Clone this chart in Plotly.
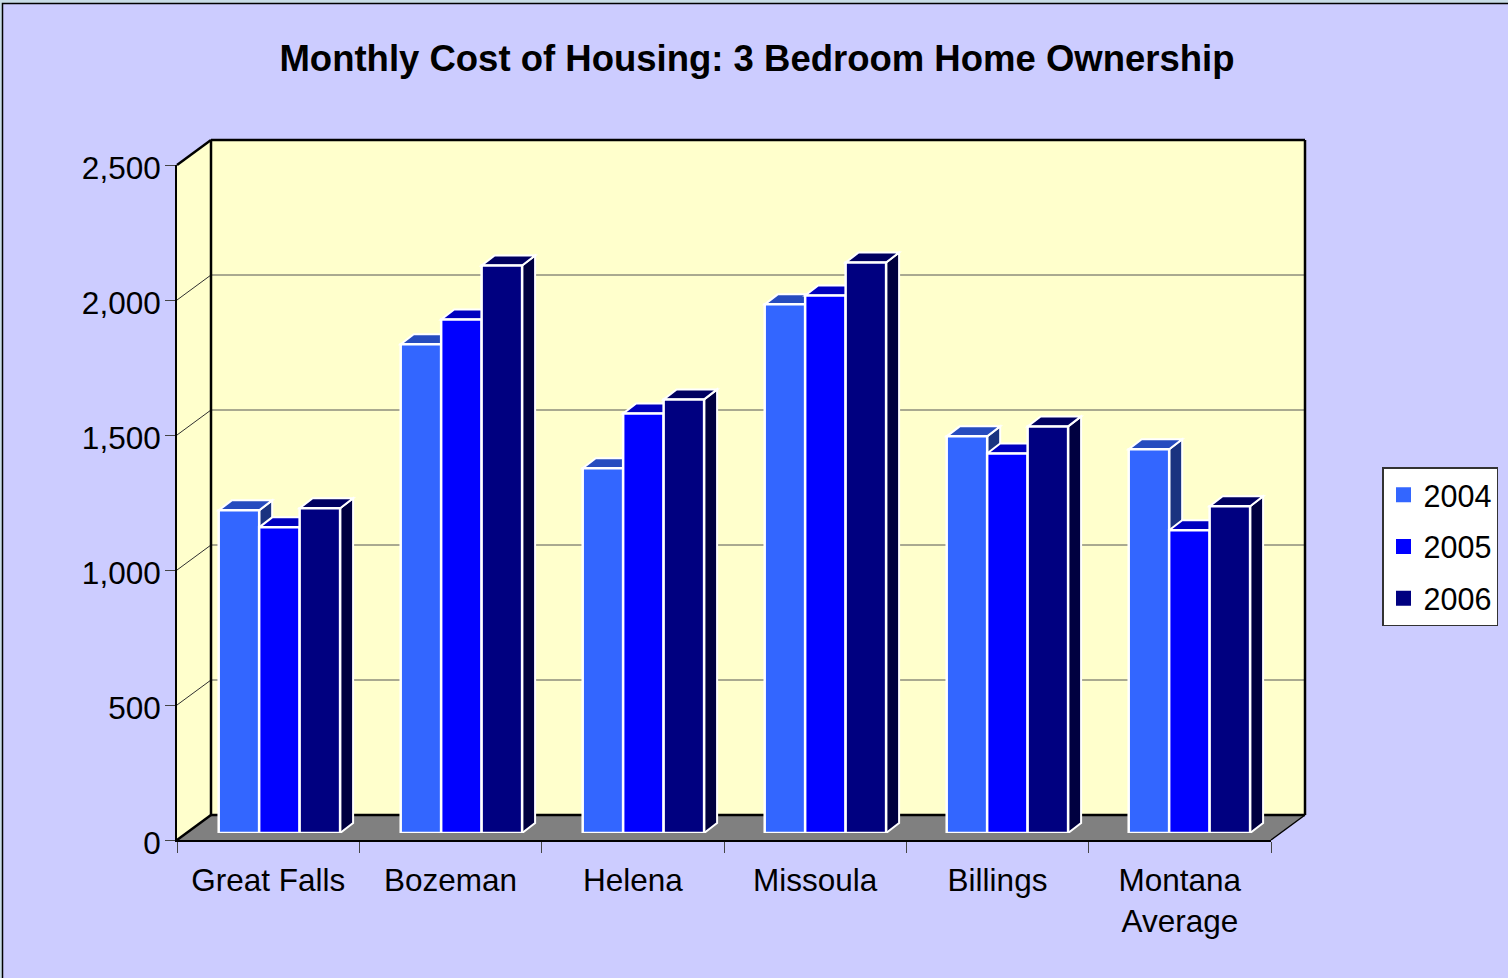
"""Monthly Cost of Housing: 3 bedroom home ownership, drawn as faux-3D clustered bars."""
import plotly.graph_objects as go

CITIES = ["Great Falls", "Bozeman", "Helena", "Missoula", "Billings", "Montana<br>Average"]
YEARS = ["2004", "2005", "2006"]
COST_2004 = [1195, 1810, 1351, 1958, 1469, 1421]
COST_2005 = [1132, 1902, 1554, 1991, 1406, 1121]
COST_2006 = [1203, 2102, 1606, 2113, 1506, 1210]
Y_TICKS = [0, 500, 1000, 1500, 2000, 2500]

FRONT = ["#3366FF", "#0000FF", "#000080"]
TOP = ["#264CBF", "#0000BF", "#000060"]
SIDE = ["#1A3380", "#000080", "#000040"]
PAPER = "#CCCCFF"
WALL = "#FFFFCC"
FLOOR = "#808080"
FONT = "Liberation Sans"
W, H = 1508, 978

# Plot box in page pixels: front plane, back wall, and the plane the bars stand on
FX0, FX1, FY0, FY1 = 177, 1271, 840, 165
BX0, BX1, BY0, BY1 = 211, 1305, 815, 140
BAR_X0, BAR_X1 = 188.4, 1280.4
BAR_DY = -7
GAP = 0.333
# Bar depth, in data units of the bar axes
DEPTH_X = 13 / ((BAR_X1 - BAR_X0) / 6)
DEPTH_Y = 10 / ((FY0 - FY1) / 2500)


def px(x):
    return x / W


def py(y):
    return 1 - y / H


def poly(points, fill, line_color=None, line_width=0):
    path = "M" + " L".join(f"{px(x):.5f},{py(y):.5f}" for x, y in points) + " Z"
    return dict(type="path", xref="paper", yref="paper", path=path, fillcolor=fill,
                line=dict(color=line_color or fill, width=line_width), layer="below")


def seg(x0, y0, x1, y1, color, width):
    return dict(type="line", xref="paper", yref="paper", x0=px(x0), y0=py(y0), x1=px(x1), y1=py(y1),
                line=dict(color=color, width=width), layer="below")


fig = go.Figure()

# Invisible trace so the front category axis gets its labels; real legend entries follow
fig.add_trace(go.Scatter(x=CITIES, y=[None] * 6, xaxis="x", yaxis="y", showlegend=False, hoverinfo="skip"))
for year, color in zip(YEARS, FRONT):
    fig.add_trace(go.Scatter(
        x=[None], y=[None], xaxis="x", yaxis="y", mode="markers", name=year, legendgroup=year,
        marker=dict(symbol="square", size=15, color=color),
    ))

series = [COST_2004, COST_2005, COST_2006]
for year, values, color in zip(YEARS, series, FRONT):
    fig.add_trace(go.Bar(
        x=list(range(6)), y=values, xaxis="x2", yaxis="y2", name=year, showlegend=False,
        marker=dict(color=color, line=dict(color="white", width=2.5)),
    ))

# ---- walls, floor, grid
shapes = [
    dict(type="rect", xref="paper", yref="paper", x0=px(2.5), y0=py(3.5), x1=1.05, y1=-0.05,
         fillcolor=PAPER, line=dict(color="black", width=1.5), layer="below"),
    poly([(FX0, FY1), (BX0, BY1), (BX1, BY1), (BX1, BY0), (BX0, BY0), (FX0, FY0)], WALL),
    poly([(FX0, FY0), (BX0, BY0), (BX1, BY0), (FX1, FY0)], FLOOR),
]
for tick in Y_TICKS[1:-1]:
    front_y = FY0 - (FY0 - FY1) * tick / 2500
    back_y = BY0 - (BY0 - BY1) * tick / 2500
    shapes.append(seg(FX0, front_y, BX0, back_y, "#303030", 1))
    shapes.append(seg(BX0, back_y, BX1, back_y, "#555555", 1))
shapes += [
    seg(FX0, FY1, BX0, BY1, "black", 2.5),
    seg(BX0, BY1, BX1, BY1, "black", 2.5),
    seg(BX0, BY1, BX0, BY0, "black", 2.5),
    seg(BX1, BY1, BX1, BY0, "black", 2.5),
    seg(BX0, BY0, BX1, BY0, "black", 2.5),
    seg(FX0, FY0, BX0, BY0, "black", 2.5),
    seg(FX1, FY0, BX1, BY0, "black", 1.5),
]

# ---- bar tops and sides, worked out from the values on the bar axes
bar_w = (1 - GAP) / 3
outline = dict(color="white", width=2)
for i in range(6):
    for j in range(3):
        v = series[j][i]
        x0 = i - (1 - GAP) / 2 + j * bar_w
        x1 = x0 + bar_w
        shapes.append(dict(
            type="path", xref="x2", yref="y2", fillcolor=SIDE[j], line=outline, layer="below",
            path=f"M{x1},0 L{x1 + DEPTH_X},{DEPTH_Y} L{x1 + DEPTH_X},{v + DEPTH_Y} L{x1},{v} Z",
        ))
        shapes.append(dict(
            type="path", xref="x2", yref="y2", fillcolor=TOP[j], line=outline, layer="below",
            path=f"M{x0},{v} L{x1},{v} L{x1 + DEPTH_X},{v + DEPTH_Y} L{x0 + DEPTH_X},{v + DEPTH_Y} Z",
        ))

fig.update_layout(
    width=W, height=H,
    margin=dict(l=0, r=0, t=0, b=0, autoexpand=False),
    paper_bgcolor="#C8DCE6",
    plot_bgcolor="rgba(0,0,0,0)",
    font=dict(family=FONT, size=31.5, color="black"),
    title=dict(text="<b>Monthly Cost of Housing: 3 Bedroom Home Ownership</b>",
               font=dict(family=FONT, size=36.5, color="black"),
               x=757 / W, xanchor="center", xref="paper",
               y=py(58), yanchor="middle", yref="paper"),
    barmode="group", bargap=GAP, bargroupgap=0,
    shapes=shapes,
    xaxis=dict(
        type="category", categoryorder="array", categoryarray=CITIES,
        domain=[px(FX0), px(FX1)], anchor="y", range=[-0.5, 5.5],
        tickson="boundaries", ticks="outside", ticklen=11, tickwidth=1, tickcolor="#444444",
        showline=True, linecolor="black", linewidth=2, showgrid=False, zeroline=False,
        ticklabelstandoff=11,
    ),
    yaxis=dict(
        domain=[py(FY0), py(FY1)], anchor="x", range=[0, 2500],
        tickvals=Y_TICKS, tickformat=",d", ticks="outside", ticklen=10, tickwidth=1, tickcolor="#444444",
        showline=True, linecolor="black", linewidth=2, showgrid=False, zeroline=False,
        ticklabelstandoff=-2, ticklabelshift=3,
    ),
    xaxis2=dict(
        domain=[px(BAR_X0), px(BAR_X1)], anchor="y2", range=[-0.5, 5.5], visible=False,
    ),
    yaxis2=dict(
        domain=[py(FY0 + BAR_DY), py(FY1 + BAR_DY)], anchor="x2", range=[0, 2500], visible=False,
    ),
    legend=dict(
        x=px(1382), xanchor="left", y=py(467), yanchor="top",
        bgcolor="white", bordercolor="#333333", borderwidth=1.5,
        font=dict(family=FONT, size=30.5), tracegroupgap=9, itemwidth=30,
    ),
)

fig.write_html("out.html", config=dict(displayModeBar=False), post_script="document.body.style.margin='0';")
